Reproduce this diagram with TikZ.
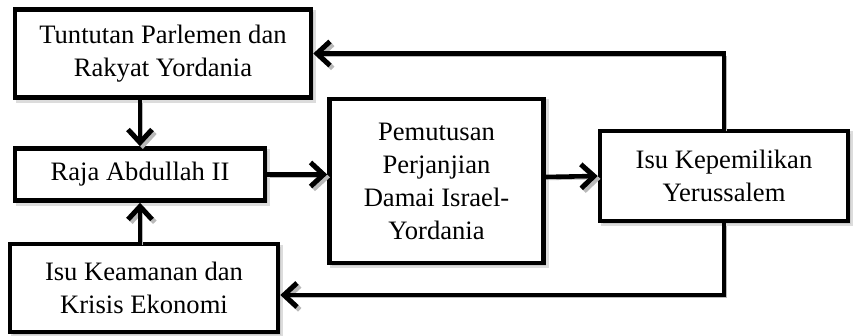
\documentclass[tikz,border=0pt]{standalone}
\usepackage{fontspec}
\setmainfont{Liberation Serif}
\usetikzlibrary{arrows.meta,shadows}

\begin{document}
\begin{tikzpicture}[x=0.5pt,y=-0.5pt,
	kotak/.style={draw,fill=white,line width=2.3pt,inner sep=0pt,align=center,
		font=\fontsize{13.3}{16.5}\selectfont,
		drop shadow={shadow xshift=1.4pt,shadow yshift=-1.4pt,draw=gray!55,fill=gray!55,line width=2.3pt}},
	panah/.style={line width=2.3pt,-{Straight Barb[length=6.5pt,width=12pt,line width=2.5pt]},
		preaction={draw=gray!55,transform canvas={shift={(1.4pt,-1.4pt)}}}}]
	\useasboundingbox (0,0) rectangle (855,336);
	\node[kotak,minimum width=148pt,minimum height=44pt] (tuntutan) at (163,53.5) {Tuntutan Parlemen dan\\Rakyat Yordania};
	\node[kotak,minimum width=125pt,minimum height=26pt] (raja) at (140,174.5) {Raja Abdullah II};
	\node[kotak,minimum width=134pt,minimum height=44pt] (keamanan) at (144,288) {Isu Keamanan dan\\Krisis Ekonomi};
	\node[kotak,minimum width=107pt,minimum height=82pt] (pemutusan) at (436.5,181) {Pemutusan\\Perjanjian\\Damai Israel-\\Yordania};
	\node[kotak,minimum width=124pt,minimum height=45pt] (kepemilikan) at (724,176) {Isu Kepemilikan\\Yerussalem};
	\draw[panah] (tuntutan.south -| raja.north) -- (raja.north);
	\draw[panah] (keamanan.north -| raja.south) -- (raja.south);
	\draw[panah] (raja.east) -- (raja.east -| pemutusan.west);
	\draw[panah] ([yshift=2pt]pemutusan.east) -- (kepemilikan.west);
	\draw[panah] (kepemilikan.north) |- (tuntutan.east);
	\draw[panah] (kepemilikan.south) |- ([yshift=-3.5pt]keamanan.east);
\end{tikzpicture}
\end{document}
